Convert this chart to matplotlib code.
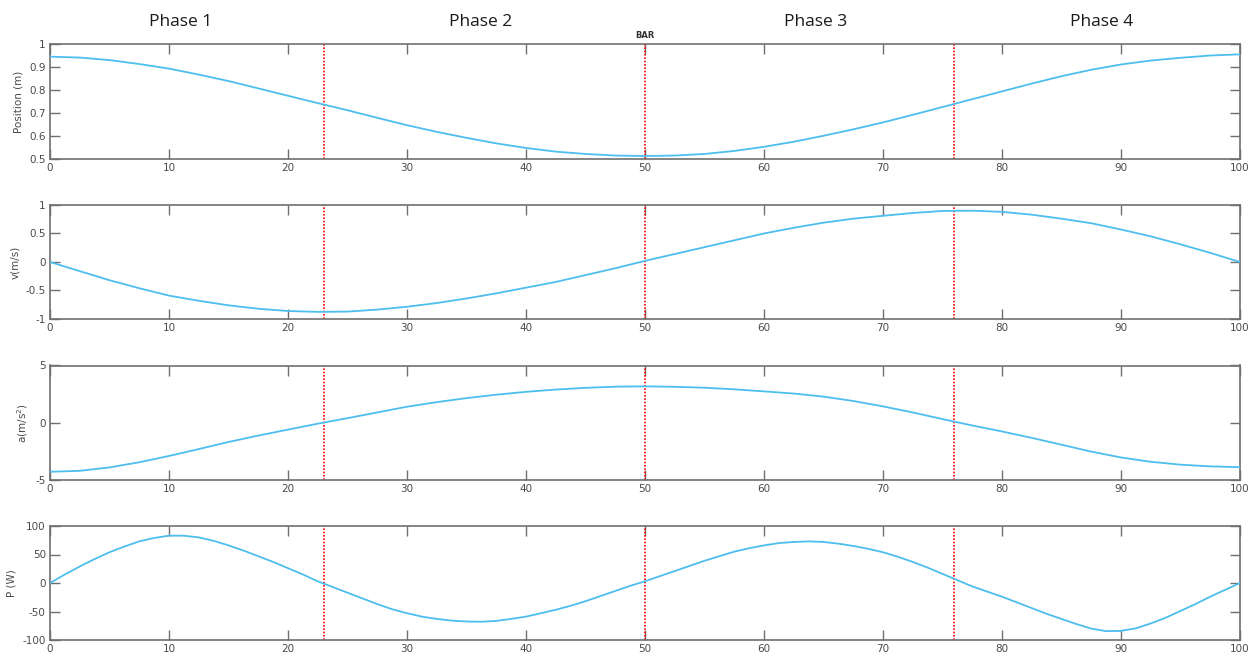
import matplotlib
matplotlib.use("Agg")
import matplotlib.pyplot as plt
from matplotlib.ticker import FormatStrFormatter

# ---- data ----
pct = [0, 2.5, 5, 7.5, 10, 12.5, 15, 17.5, 20, 22.5, 25, 27.5, 30, 32.5, 35, 37.5,
       40, 42.5, 45, 47.5, 50, 52.5, 55, 57.5, 60, 62.5, 65, 67.5, 70, 72.5, 75,
       77.5, 80, 82.5, 85, 87.5, 90, 92.5, 95, 97.5, 100]

position = [0.945, 0.941, 0.930, 0.913, 0.893, 0.867, 0.839, 0.807, 0.775, 0.743,
            0.712, 0.679, 0.647, 0.618, 0.592, 0.568, 0.548, 0.532, 0.522, 0.515,
            0.513, 0.515, 0.522, 0.535, 0.553, 0.575, 0.601, 0.629, 0.659, 0.692,
            0.726, 0.760, 0.794, 0.828, 0.860, 0.888, 0.911, 0.928, 0.940, 0.950,
            0.955]

velocity = [0.00, -0.16, -0.32, -0.46, -0.59, -0.68, -0.76, -0.82, -0.86, -0.875,
            -0.87, -0.835, -0.785, -0.72, -0.64, -0.55, -0.45, -0.35, -0.23, -0.11,
            0.02, 0.14, 0.26, 0.38, 0.50, 0.60, 0.69, 0.76, 0.81, 0.86,
            0.895, 0.90, 0.88, 0.83, 0.76, 0.68, 0.57, 0.45, 0.31, 0.16,
            0.00]

acceleration = [-4.28, -4.2, -3.9, -3.45, -2.9, -2.3, -1.68, -1.12, -0.6, -0.08,
                0.4, 0.9, 1.4, 1.8, 2.15, 2.45, 2.7, 2.9, 3.05, 3.15,
                3.18, 3.14, 3.06, 2.92, 2.74, 2.55, 2.28, 1.9, 1.43, 0.9,
                0.32, -0.24, -0.76, -1.32, -1.92, -2.52, -3.03, -3.41, -3.66, -3.81,
                -3.88]

pct_fine = [0, 1.25, 2.5, 3.75, 5, 6.25, 7.5, 8.75, 10, 11.25, 12.5, 13.75, 15,
            16.25, 17.5, 18.75, 20, 21.25, 22.5, 23.75, 25, 26.25, 27.5, 28.75,
            30, 31.25, 32.5, 33.75, 35, 36.25, 37.5, 38.75, 40, 41.25, 42.5,
            43.75, 45, 46.25, 47.5, 48.75, 50, 51.25, 52.5, 53.75, 55, 56.25,
            57.5, 58.75, 60, 61.25, 62.5, 63.75, 65, 66.25, 67.5, 68.75, 70,
            71.25, 72.5, 73.75, 75, 76.25, 77.5, 78.75, 80, 81.25, 82.5, 83.75,
            85, 86.25, 87.5, 88.75, 90, 91.25, 92.5, 93.75, 95, 96.25, 97.5,
            98.75, 100]

power = [0, 15, 29, 42, 54, 64, 73, 79, 83, 83, 80, 74, 66,
         57, 47, 37, 26, 15, 3, -7, -17, -27, -37, -46,
         -53, -59, -63, -66, -67.5, -68, -66.5, -63, -59, -53, -47,
         -40, -32, -23, -14, -5, 3, 12, 21, 30, 39, 47,
         55, 61, 66, 70, 72, 73, 72, 69, 65, 60, 54,
         46, 37, 27, 16, 5, -6, -15, -24, -34, -44, -54,
         -63, -72, -80, -84.5, -84, -79.5, -71, -61, -49, -37, -24,
         -12, 0]

phase_bounds = [23, 50, 76]
phase_names = ["Phase 1", "Phase 2", "Phase 3", "Phase 4"]
phase_label_x = [11.0, 36.2, 64.3, 88.4]
bar_label = "BAR"

xs = [pct, pct, pct, pct_fine]
series = [position, velocity, acceleration, power]
ylabels = ["Position (m)", "v(m/s)", "a(m/s$^2$)", "P (W)"]
ylims = [(0.5, 1.0), (-1, 1), (-5, 5), (-100, 100)]
yticks = [[0.5, 0.6, 0.7, 0.8, 0.9, 1.0], [-1, -0.5, 0, 0.5, 1], [-5, 0, 5],
          [-100, -50, 0, 50, 100]]
xticks = list(range(0, 101, 10))

# ---- layout ----
W, H = 1252, 657
fig = plt.figure(figsize=(W / 100, H / 100), dpi=100)
fig.patch.set_facecolor("white")

panels_px = [(44, 159), (205, 319), (365.5, 480), (526, 640)]
left_px, right_px = 50, 1240

line_col = "#4DBEEE"
axis_col = "#6f6f6f"
text_col = "#4a4a4a"

axes = []
for i, (top, bot) in enumerate(panels_px):
    ax = fig.add_axes([left_px / W, 1 - bot / H, (right_px - left_px) / W, (bot - top) / H])
    axes.append(ax)
    ax.plot(xs[i], series[i], color=line_col, lw=1.3, zorder=3,
            solid_joinstyle="round", antialiased=True)
    for b in phase_bounds:
        ax.axvline(b, color="red", ls=(0, (1, 1)), lw=1.2, zorder=2)
    ax.set_xlim(0, 100)
    ax.set_ylim(*ylims[i])
    ax.set_xticks(xticks)
    ax.set_yticks(yticks[i])
    ax.xaxis.set_major_formatter(FormatStrFormatter("%g"))
    ax.yaxis.set_major_formatter(FormatStrFormatter("%g"))
    ax.tick_params(direction="in", top=True, right=True, length=7.5, width=1.0,
                   color=axis_col, labelcolor=text_col, labelsize=7.5, pad=3)
    for s in ax.spines.values():
        s.set_color(axis_col)
        s.set_linewidth(1.2)
    ax.set_ylabel(ylabels[i], fontsize=7.5, color=text_col, labelpad=4)

# phase labels above the first panel
for name, xp in zip(phase_names, phase_label_x):
    axes[0].text(xp, 1.0 + 14 / 115, name, transform=axes[0].get_xaxis_transform(),
                 ha="center", va="bottom", fontsize=12.5, family="Open Sans",
                 color="#1a1a1a")

axes[0].text(phase_bounds[1], 1.0 + 4 / 115, bar_label,
             transform=axes[0].get_xaxis_transform(), ha="center", va="bottom",
             fontsize=6, fontweight="bold", color="#333333")

fig.savefig("out.png", dpi=100, facecolor="white")
